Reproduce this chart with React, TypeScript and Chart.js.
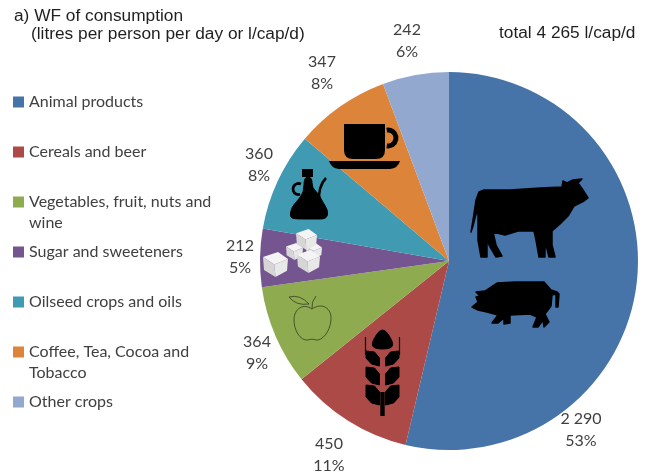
import React, { useEffect, useRef } from "react";
import { Chart, registerables } from "chart.js";

Chart.register(...registerables);

const categories = [
  "Animal products",
  "Cereals and beer",
  "Vegetables, fruit, nuts and wine",
  "Sugar and sweeteners",
  "Oilseed crops and oils",
  "Coffee, Tea, Cocoa and Tobacco",
  "Other crops",
];
const values = [2290, 450, 364, 212, 360, 347, 242];
const valueLabels = ["2 290", "450", "364", "212", "360", "347", "242"];
const percentLabels = ["53%", "11%", "9%", "5%", "8%", "8%", "6%"];
const colors = ["#4674A9", "#AC4A47", "#8EAB50", "#74558F", "#3F9AB2", "#DC8439", "#93A8CE"];

const legendLines = [
  ["Animal products"],
  ["Cereals and beer"],
  ["Vegetables, fruit, nuts and", "wine"],
  ["Sugar and sweeteners"],
  ["Oilseed crops and oils"],
  ["Coffee, Tea, Cocoa and", "Tobacco"],
  ["Other crops"],
];
const legendY = [102, 152, 202, 252, 302, 352, 402];
const labelPos = [
  [581, 419],
  [329, 444],
  [257, 342],
  [240, 246],
  [259, 154],
  [322, 62],
  [407, 30],
];

type Pts = number[][];
type Ctx = CanvasRenderingContext2D;

function smooth(ctx: Ctx, pts: Pts, fill: string, grow = 1.5) {
  const n = pts.length;
  ctx.beginPath();
  ctx.moveTo((pts[0][0] + pts[1][0]) / 2, (pts[0][1] + pts[1][1]) / 2);
  for (let i = 1; i <= n; i++) {
    const p = pts[i % n];
    const q = pts[(i + 1) % n];
    ctx.quadraticCurveTo(p[0], p[1], (p[0] + q[0]) / 2, (p[1] + q[1]) / 2);
  }
  ctx.closePath();
  ctx.fillStyle = fill;
  ctx.fill();
  if (grow > 0) {
    ctx.strokeStyle = fill;
    ctx.lineWidth = grow;
    ctx.lineJoin = "round";
    ctx.stroke();
  }
}
function sharp(ctx: Ctx, pts: Pts, fill: string, grow = 0) {
  ctx.beginPath();
  pts.forEach((p, i) => (i ? ctx.lineTo(p[0], p[1]) : ctx.moveTo(p[0], p[1])));
  ctx.closePath();
  ctx.fillStyle = fill;
  ctx.fill();
  if (grow > 0) {
    ctx.strokeStyle = fill;
    ctx.lineWidth = grow;
    ctx.lineJoin = "round";
    ctx.stroke();
  }
}

function drawCow(ctx: Ctx) {
  sharp(ctx, [
    [471, 232], [473, 220], [476, 200], [479, 192], [484, 190], [510, 190], [540, 188], [562, 187], [563, 181],
    [567, 183], [573, 180], [582, 179], [578, 183], [583, 190], [588, 198], [584, 201], [574, 206], [568, 216], [560, 224],
    [552, 231], [552, 245], [555, 257], [549, 257], [546, 245], [545, 242], [545, 257], [539, 257], [536, 240], [534, 231],
    [518, 231], [505, 235], [493, 232], [496, 245], [502, 256], [496, 257], [489, 245], [487, 240], [487, 257],
    [481, 257], [478, 240], [478, 225], [478, 208], [475, 218], [473, 226],
  ], "#000", 1.5);
}
function drawPig(ctx: Ctx) {
  sharp(ctx, [
    [472, 307], [478, 302], [476, 297], [480, 296], [476, 292], [485, 291], [497, 283], [515, 282], [544, 282],
    [551, 290], [557, 292], [559, 294], [558, 307], [556, 307], [556, 294], [552, 295], [551, 306], [545, 314],
    [549, 322], [544, 327], [543, 320], [538, 327], [533, 327], [537, 317], [530, 314], [510, 315], [510, 323],
    [504, 324], [504, 318], [498, 323], [492, 323], [498, 315], [487, 312], [478, 310],
  ], "#000", 1.5);
}
function drawCup(ctx: Ctx) {
  ctx.fillStyle = "#000";
  ctx.beginPath();
  ctx.moveTo(344, 124);
  ctx.lineTo(385, 124);
  ctx.lineTo(385, 150);
  ctx.quadraticCurveTo(385, 159, 376, 159);
  ctx.lineTo(353, 159);
  ctx.quadraticCurveTo(344, 159, 344, 150);
  ctx.closePath();
  ctx.fill();
  ctx.strokeStyle = "#000";
  ctx.lineWidth = 5;
  ctx.beginPath();
  ctx.arc(388, 138, 8, -Math.PI * 0.55, Math.PI * 0.55);
  ctx.stroke();
  ctx.beginPath();
  ctx.moveTo(329, 161);
  ctx.lineTo(400, 161);
  ctx.quadraticCurveTo(398, 168, 390, 169);
  ctx.lineTo(339, 169);
  ctx.quadraticCurveTo(331, 168, 329, 161);
  ctx.closePath();
  ctx.fill();
}
function drawJug(ctx: Ctx) {
  ctx.fillStyle = "#000";
  ctx.fillRect(302, 169, 11, 8);
  ctx.strokeStyle = "#000";
  ctx.lineWidth = 2.8;
  ctx.beginPath();
  ctx.arc(298.5, 189, 5.5, Math.PI * 0.4, Math.PI * 1.65);
  ctx.stroke();
  ctx.lineWidth = 2.5;
  ctx.beginPath();
  ctx.moveTo(319, 203);
  ctx.quadraticCurveTo(318, 186, 326, 178);
  ctx.stroke();
  smooth(ctx, [
    [304, 177], [312, 177], [312, 188], [319, 194], [322, 201], [328, 210], [327, 219], [313, 219], [297, 219],
    [290, 218], [291, 208], [298, 200], [304, 192],
  ], "#000", 1);
}
function cube(ctx: Ctx, x: number, y: number, s: number) {
  sharp(ctx, [[x, y + s * 0.2], [x + s * 0.6, y], [x + s, y + s * 0.28], [x + s * 0.45, y + s * 0.5]], "#F4F4F4");
  sharp(ctx, [[x, y + s * 0.2], [x + s * 0.45, y + s * 0.5], [x + s * 0.5, y + s], [x + s * 0.04, y + s * 0.72]], "#D6D6D6");
  sharp(ctx, [[x + s, y + s * 0.28], [x + s * 0.45, y + s * 0.5], [x + s * 0.5, y + s], [x + s * 0.96, y + s * 0.75]], "#E8E8E8");
}
function drawSugar(ctx: Ctx) {
  cube(ctx, 306, 243, 16);
  cube(ctx, 286, 243, 17);
  cube(ctx, 296, 229, 21);
  cube(ctx, 297, 250, 23);
  cube(ctx, 263, 252, 25);
}
function drawApple(ctx: Ctx) {
  ctx.strokeStyle = "#26301A";
  ctx.lineWidth = 0.7;
  ctx.beginPath();
  ctx.moveTo(312, 309);
  ctx.bezierCurveTo(322, 302, 332, 308, 331, 320);
  ctx.bezierCurveTo(330, 332, 322, 341, 316, 340);
  ctx.bezierCurveTo(313, 339, 311, 339, 308, 340);
  ctx.bezierCurveTo(300, 341, 294, 330, 294, 320);
  ctx.bezierCurveTo(294, 308, 304, 303, 312, 309);
  ctx.stroke();
  ctx.beginPath();
  ctx.moveTo(312, 309);
  ctx.quadraticCurveTo(311, 302, 316, 296);
  ctx.stroke();
  ctx.beginPath();
  ctx.moveTo(289, 297);
  ctx.quadraticCurveTo(300, 294, 309, 304);
  ctx.quadraticCurveTo(296, 306, 289, 297);
  ctx.stroke();
}
function drawWheat(ctx: Ctx) {
  const cx = 382.5;
  ctx.fillStyle = "#000";
  ctx.fillRect(cx - 2.2, 392, 4.4, 24);
  smooth(ctx, [[cx, 326], [cx + 11, 342], [cx + 9, 349], [cx - 9, 349], [cx - 11, 342]], "#000", 1);
  const rows = [
    [350, 364],
    [366, 383],
    [384, 403],
  ];
  rows.forEach(([t, b]) => {
    [-1, 1].forEach((s) => {
      sharp(ctx, [
        [cx + s * 16.5, t + 1],
        [cx + s * 8, t + 2],
        [cx + s * 3, t + 8],
        [cx + s * 3, b + 2],
        [cx + s * 11, b],
        [cx + s * 16.5, b - 6],
      ], "#000", 1);
    });
  });
  ctx.fillRect(cx - 17.6, 337, 1.2, 18);
  ctx.fillRect(cx + 16.4, 337, 1.2, 18);
}

const overlay = {
  id: "overlay",
  afterDraw(chart: Chart) {
    const ctx = chart.ctx;
    ctx.save();
    drawCow(ctx);
    drawPig(ctx);
    drawCup(ctx);
    drawJug(ctx);
    drawSugar(ctx);
    drawApple(ctx);
    drawWheat(ctx);

    ctx.textBaseline = "middle";
    ctx.textAlign = "left";
    ctx.fillStyle = "#1F1F1F";
    ctx.font = '17.3px "Liberation Sans"';
    ctx.fillText("a) WF of consumption", 14, 16);
    ctx.fillText("(litres per person per day or l/cap/d)", 31, 34);
    ctx.fillText("total 4 265 l/cap/d", 499, 33);

    ctx.font = "16px Lato";
    legendLines.forEach((lines, i) => {
      ctx.fillStyle = colors[i];
      ctx.fillRect(13, legendY[i] - 5.5, 11, 11);
      ctx.fillStyle = "#404040";
      lines.forEach((t, j) => ctx.fillText(t, 29, legendY[i] + j * 20.5));
    });

    ctx.textAlign = "center";
    ctx.fillStyle = "#404040";
    valueLabels.forEach((t, i) => {
      ctx.fillText(t, labelPos[i][0], labelPos[i][1]);
      ctx.fillText(percentLabels[i], labelPos[i][0], labelPos[i][1] + 22);
    });
    ctx.restore();
  },
};

export default function App() {
  const ref = useRef<HTMLCanvasElement>(null);
  useEffect(() => {
    const chart = new Chart(ref.current!, {
      type: "pie",
      data: {
        labels: categories,
        datasets: [{ data: values, backgroundColor: colors, borderWidth: 0 }],
      },
      options: {
        animation: false,
        responsive: false,
        layout: { padding: { left: 260, right: 15, top: 72, bottom: 22 } },
        plugins: { legend: { display: false }, tooltip: { enabled: false } },
      },
      plugins: [overlay],
    });
    return () => chart.destroy();
  }, []);
  return (
    <div style={{ position: "fixed", left: 0, top: 0, width: 653, height: 472, background: "#fff" }}>
      <canvas ref={ref} width={653} height={472} style={{ display: "block", filter: "blur(0.4px)" }} />
    </div>
  );
}
